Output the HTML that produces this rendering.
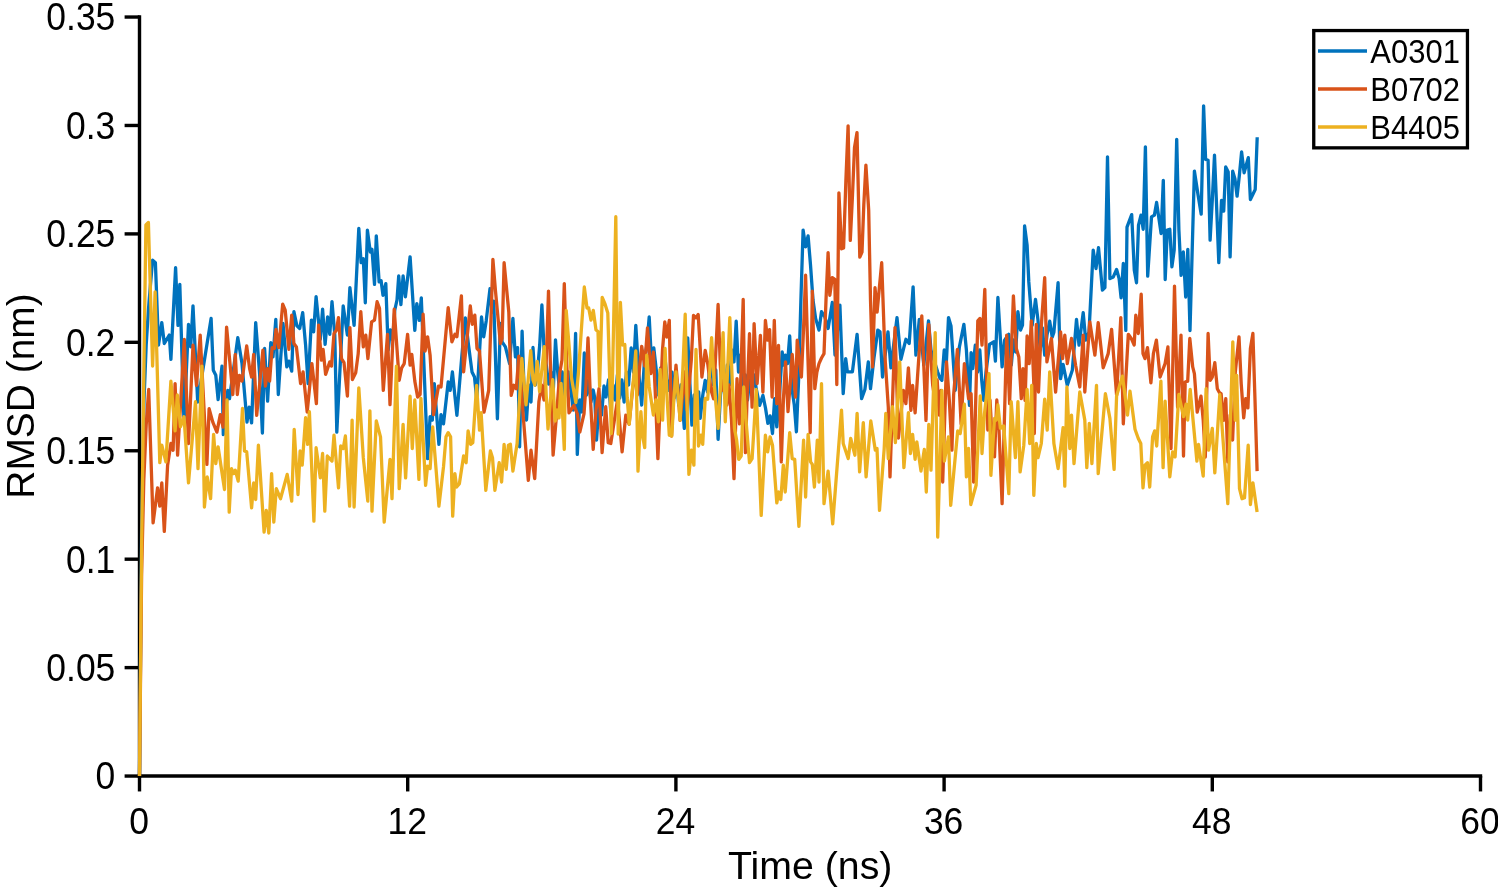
<!DOCTYPE html>
<html lang="en"><head><meta charset="utf-8"><title>RMSD</title>
<style>
html,body{margin:0;padding:0;background:#fff}
body{width:1498px;height:891px;overflow:hidden}
svg{display:block}
text{font-family:"Liberation Sans",Arial,Helvetica,sans-serif;fill:#000}
.tk{font-size:35px}
.lb{font-size:39.3px}
.lb2{font-size:38.9px}
.lg{font-size:31px}
</style></head><body>
<svg width="1498" height="891" viewBox="0 0 1498 891">
<rect width="1498" height="891" fill="#fff"/>
<g stroke="#000" stroke-width="3.4" fill="none" stroke-linecap="butt">
<path d="M139.5,15.3 V777.75"/>
<path d="M137.8,776.05 H1482.1999999999998"/>
<path d="M124.6,776.05 H139.5"/>
<path d="M124.6,667.62 H139.5"/>
<path d="M124.6,559.19 H139.5"/>
<path d="M124.6,450.76 H139.5"/>
<path d="M124.6,342.33 H139.5"/>
<path d="M124.6,233.90 H139.5"/>
<path d="M124.6,125.47 H139.5"/>
<path d="M124.6,17.04 H139.5"/>
<path d="M139.50,776.05 V791.4499999999999"/>
<path d="M407.70,776.05 V791.4499999999999"/>
<path d="M675.90,776.05 V791.4499999999999"/>
<path d="M944.10,776.05 V791.4499999999999"/>
<path d="M1212.30,776.05 V791.4499999999999"/>
<path d="M1480.50,776.05 V791.4499999999999"/>
</g>
<polyline fill="none" stroke="#0072BD" stroke-width="3.3" stroke-linejoin="round" stroke-linecap="butt" points="139.5,776.0 141.7,520.0 144.0,400.0 146.2,345.0 148.4,310.0 150.6,283.0 152.6,260.1 155.4,262.7 158.5,345.0 161.8,322.6 164.3,343.5 169.3,335.1 170.9,359.4 175.6,267.7 178.0,325.4 179.8,284.4 184.0,422.1 188.5,324.3 190.7,346.9 193.0,305.9 197.7,402.0 211.1,318.4 213.3,370.3 215.8,375.3 218.1,399.5 222.0,366.1 223.3,434.6 227.8,390.3 229.5,398.7 237.8,337.7 242.0,363.6 247.0,422.1 249.2,407.1 251.6,422.9 255.7,322.6 259.6,373.6 262.4,433.0 264.6,348.5 267.6,401.2 270.8,342.7 273.0,356.9 275.8,319.3 278.3,394.5 283.0,323.4 286.8,366.9 288.9,361.1 291.7,371.1 293.9,311.7 296.9,325.9 299.7,328.5 302.7,312.6 305.6,345.2 308.1,383.6 311.4,320.1 313.6,331.8 316.1,296.7 320.3,339.3 322.6,309.2 325.1,344.4 327.6,316.8 329.8,334.3 332.0,301.7 334.8,335.1 336.8,432.1 343.2,305.9 347.4,335.1 349.9,287.7 354.1,325.4 358.8,228.4 361.1,262.7 363.3,258.8 365.3,302.8 367.4,230.1 370.3,252.1 372.0,249.3 374.5,284.4 376.3,235.9 379.1,281.9 381.1,280.7 383.0,295.3 385.8,283.6 388.2,350.0 390.4,330.0 392.6,340.0 394.8,310.0 397.0,300.0 398.7,276.0 400.9,304.5 403.1,276.0 405.4,296.9 410.1,256.8 414.8,330.4 416.8,303.6 419.3,320.4 421.3,297.8 427.6,458.6 430.1,416.7 432.3,420.1 434.3,383.6 438.9,444.3 441.0,414.6 443.5,423.8 448.2,382.0 450.2,390.3 452.4,371.9 456.9,415.4 461.5,360.0 465.3,317.8 468.5,345.0 472.0,371.9 474.5,377.0 476.8,400.0 481.5,317.0 483.7,336.8 486.2,320.9 490.0,288.6 492.0,312.0 493.7,301.1 497.4,418.8 500.4,323.4 502.1,341.8 505.4,346.9 509.6,363.6 512.9,318.3 515.4,356.9 517.6,347.7 519.6,446.8 522.1,331.2 524.3,395.0 526.5,420.0 528.8,385.0 531.0,402.0 533.0,347.5 535.3,385.0 537.5,372.0 539.7,345.0 541.9,305.0 544.2,352.0 546.4,366.0 548.6,384.0 550.9,372.0 553.1,395.0 555.5,339.8 557.7,372.0 560.0,395.0 562.2,372.0 564.4,398.0 566.6,380.0 568.9,372.0 571.1,392.0 573.3,410.0 575.6,333.4 577.3,454.4 579.8,400.0 582.0,412.0 584.3,353.0 586.5,395.0 588.7,380.0 591.0,402.0 593.2,390.0 594.8,398.0 596.5,440.2 599.0,405.0 601.5,415.0 604.0,386.0 606.0,397.0 608.5,380.0 610.7,410.0 613.0,385.0 615.2,400.0 617.4,375.0 619.7,398.0 621.9,380.0 624.1,402.0 626.4,372.0 628.6,385.0 631.2,347.8 633.4,372.0 635.8,325.4 638.5,370.0 641.7,405.0 644.5,360.0 646.9,345.0 649.2,317.0 651.5,362.0 653.8,348.0 656.7,373.6 658.5,395.0 660.7,368.0 663.0,392.0 665.2,360.0 667.5,385.0 668.4,390.3 672.0,372.0 674.2,398.0 676.5,380.0 678.7,405.0 681.0,385.0 684.3,428.4 687.7,337.9 691.9,425.1 694.2,395.0 696.5,410.0 698.7,392.0 700.2,418.4 702.8,395.0 705.2,380.3 707.5,392.0 709.5,370.0 711.1,361.9 713.5,385.0 715.8,370.0 718.1,439.3 720.5,395.0 722.8,372.0 725.0,398.0 727.3,365.0 729.5,385.0 731.8,350.0 734.0,362.0 736.2,321.2 738.5,372.0 740.8,355.0 743.0,392.0 745.3,375.0 747.5,400.0 749.8,380.0 752.1,390.3 754.2,375.0 756.2,388.7 759.6,405.4 762.9,395.4 765.5,408.0 767.9,423.4 770.1,415.9 772.5,433.5 774.6,398.7 776.8,426.8 779.5,395.0 782.2,351.9 783.8,365.2 785.5,355.2 787.5,363.6 789.7,336.0 792.2,390.3 794.3,405.0 796.4,431.8 798.6,380.0 800.9,300.0 803.1,230.1 805.6,246.8 808.1,235.9 810.5,265.0 813.0,300.0 815.6,318.4 819.0,330.1 821.5,311.7 824.8,316.8 828.1,328.5 832.3,302.5 835.0,355.0 837.5,330.0 839.9,305.1 843.2,393.7 845.7,358.6 847.4,371.9 852.4,371.9 857.1,334.3 861.6,398.7 864.9,389.5 868.3,361.9 870.5,388.7 874.1,356.9 877.8,330.1 880.0,331.8 882.5,377.0 888.0,331.8 890.9,367.8 897.0,317.6 900.9,359.4 905.9,339.3 909.2,343.5 913.1,286.9 915.9,355.2 919.3,319.3 923.8,365.2 928.5,320.9 931.0,350.2 933.3,358.0 935.5,365.0 937.7,372.0 939.8,378.0 941.9,380.3 944.2,350.0 946.4,362.0 948.5,317.6 951.0,325.9 955.2,390.3 959.4,346.9 963.9,324.3 966.4,350.0 969.5,405.4 971.1,352.7 972.8,368.6 975.3,345.2 977.6,372.0 979.8,350.0 981.7,380.0 983.7,400.4 986.0,372.0 989.5,344.4 993.7,341.8 995.4,361.1 997.9,297.5 1002.1,366.9 1004.6,340.2 1008.8,334.3 1011.3,365.0 1013.5,340.0 1015.7,352.0 1017.9,311.7 1020.5,330.1 1022.5,325.1 1024.6,225.9 1027.1,245.1 1028.8,281.9 1032.2,325.4 1035.5,299.4 1038.0,320.4 1040.2,350.0 1042.4,328.0 1044.7,355.0 1047.0,335.0 1049.7,321.2 1052.2,337.1 1053.9,332.1 1058.1,282.7 1060.6,378.6 1063.1,364.4 1067.3,385.3 1072.3,370.3 1076.5,319.3 1079.0,345.2 1083.2,312.6 1085.7,340.2 1089.0,332.1 1093.2,250.1 1096.0,268.5 1098.5,247.6 1102.4,290.2 1104.9,287.7 1107.5,156.9 1109.9,278.6 1113.3,276.9 1116.6,269.4 1119.1,278.6 1121.1,297.8 1123.3,263.5 1125.8,330.4 1127.0,227.1 1131.7,214.6 1134.3,270.3 1136.5,282.8 1138.5,225.1 1141.0,215.1 1143.2,229.3 1145.4,146.8 1147.7,276.1 1151.5,216.8 1154.4,215.1 1156.6,202.5 1161.1,233.5 1163.3,180.3 1165.2,279.5 1167.3,230.1 1169.8,229.3 1171.9,266.9 1174.2,250.0 1176.7,139.3 1178.9,230.0 1181.1,275.3 1183.3,251.9 1185.7,297.0 1187.8,249.4 1190.0,330.5 1192.2,250.0 1194.4,171.1 1198.1,195.3 1201.2,214.2 1203.6,105.9 1205.6,159.4 1208.1,160.2 1210.1,240.2 1212.3,200.0 1214.5,155.2 1216.5,203.7 1218.8,262.7 1221.5,200.3 1223.7,211.2 1225.7,166.9 1228.2,171.9 1230.1,256.9 1232.7,171.1 1234.9,178.6 1237.1,196.2 1239.4,175.0 1241.6,151.9 1244.1,172.8 1248.3,157.7 1250.4,199.5 1255.2,189.5 1257.2,137.2"/>
<polyline fill="none" stroke="#D95319" stroke-width="3.3" stroke-linejoin="round" stroke-linecap="butt" points="139.5,776.0 141.6,575.0 143.8,480.0 146.2,425.0 148.7,389.5 153.1,522.9 157.6,487.8 159.8,506.2 161.8,482.8 164.3,531.3 167.6,465.2 170.9,443.5 173.1,450.2 175.1,383.6 177.6,455.2 184.3,339.3 188.5,443.5 193.0,345.2 196.5,385.3 200.2,335.1 206.9,464.4 209.1,408.7 212.8,422.1 216.9,432.1 220.3,414.6 223.1,427.1 226.6,327.1 230.0,363.6 232.8,394.5 235.3,354.4 237.3,394.5 239.5,375.3 242.0,381.1 246.7,346.0 249.6,368.6 251.6,377.0 253.7,354.4 256.7,415.4 262.9,350.2 265.4,386.1 267.6,368.6 269.6,381.1 272.1,347.7 274.3,348.5 276.0,329.3 278.8,347.7 282.7,304.2 285.2,310.1 288.9,349.4 291.7,315.1 293.9,343.5 296.4,346.9 300.6,383.6 303.1,371.9 307.2,412.1 311.9,363.6 316.4,403.7 318.6,325.1 321.4,360.2 323.1,349.4 325.6,374.4 329.8,361.9 331.5,366.1 334.0,333.5 336.5,330.1 338.5,317.6 341.5,358.6 344.0,362.7 347.4,396.2 349.9,327.6 352.4,379.5 355.7,372.8 358.2,353.6 360.8,311.7 363.3,346.9 365.8,335.1 367.9,358.6 371.6,321.8 374.5,320.1 377.1,301.7 379.5,308.4 383.3,390.3 387.5,334.3 390.0,404.6 394.2,309.2 399.2,380.3 401.7,367.8 404.2,363.6 407.6,334.3 410.1,365.2 411.8,354.4 414.8,381.1 417.6,397.0 420.1,394.5 423.1,314.2 425.1,351.0 427.6,336.8 430.1,355.2 433.5,414.6 438.5,386.1 441.0,387.0 448.2,307.6 451.9,341.8 454.9,334.3 456.9,336.8 461.4,295.9 463.6,371.9 470.3,305.9 472.3,324.3 474.8,315.1 477.0,348.5 479.5,351.0 484.0,412.1 488.7,390.3 492.9,259.3 495.4,290.2 500.4,343.5 502.1,338.5 504.1,262.7 508.8,312.0 511.2,395.4 513.8,385.3 516.3,388.7 518.8,356.1 523.8,423.4 528.3,480.3 531.0,450.2 534.7,478.6 538.9,401.7 541.5,385.0 544.0,400.0 546.3,360.0 548.5,291.1 550.8,380.0 553.1,455.2 556.4,416.7 559.8,372.8 562.0,360.0 564.3,283.6 566.6,360.0 569.0,412.9 574.0,405.4 577.3,413.8 579.8,432.1 584.0,413.8 586.0,385.0 588.0,338.0 590.5,400.0 593.2,449.4 596.0,410.0 599.0,388.7 602.1,452.7 605.7,406.7 608.2,442.7 610.8,443.5 614.9,416.7 617.5,400.0 619.8,425.0 622.1,451.9 625.8,415.1 629.1,424.3 632.5,390.3 635.0,370.0 637.3,395.0 639.5,368.0 641.7,346.3 644.7,366.0 647.5,327.9 650.9,373.6 653.4,352.1 655.6,400.0 657.9,458.6 660.3,400.0 662.5,350.0 664.8,322.0 666.8,337.1 669.3,320.4 671.5,436.0 673.8,395.0 676.0,365.2 678.2,392.0 680.1,420.4 682.5,395.0 684.7,372.0 687.0,410.0 689.2,385.0 691.3,360.0 693.5,315.3 696.0,317.8 698.2,314.5 701.9,377.0 705.2,350.4 707.7,363.6 711.1,390.3 713.6,398.7 715.9,350.0 718.1,304.5 720.3,365.0 722.0,390.3 724.5,375.0 726.8,405.0 729.0,385.0 731.5,420.0 734.0,478.6 737.0,378.6 739.5,423.8 741.3,360.0 743.2,299.4 745.4,452.7 747.5,385.0 749.5,333.7 752.1,407.1 754.1,323.7 757.1,383.6 760.4,335.4 762.9,392.0 765.4,320.4 767.6,340.2 769.6,329.6 772.1,397.0 774.3,320.4 776.8,403.7 778.5,345.4 781.3,461.9 783.4,400.0 785.5,361.9 788.0,411.7 790.1,385.0 792.2,354.4 795.5,397.0 797.2,340.2 799.3,360.0 801.4,377.0 803.5,330.0 805.6,275.2 808.0,360.0 810.2,432.6 812.3,291.1 814.8,388.7 816.9,372.0 819.0,363.6 821.5,358.0 824.0,353.6 826.0,300.0 828.1,252.6 829.8,295.3 832.3,277.7 834.8,279.4 836.8,384.5 838.9,192.8 841.6,248.8 843.6,248.0 845.9,180.0 848.1,125.9 850.3,240.4 852.5,195.0 854.5,147.6 857.0,132.6 859.8,257.2 862.0,252.1 863.8,205.0 865.9,165.2 868.7,210.3 870.5,300.0 872.5,366.9 875.0,287.7 877.1,312.0 881.7,262.7 885.0,356.9 888.3,407.1 890.0,476.9 895.0,327.6 898.4,438.0 903.4,390.3 905.9,403.7 908.4,367.8 910.9,410.4 912.6,385.3 915.1,412.9 918.4,363.6 921.8,315.9 926.0,420.4 928.8,324.3 932.7,385.3 935.0,400.0 937.2,380.0 939.2,415.0 941.0,390.3 942.7,482.0 946.5,361.9 949.3,400.0 951.9,450.2 953.6,395.4 957.4,349.4 961.1,423.8 964.4,363.6 968.6,398.7 971.1,393.7 973.6,482.0 977.8,320.9 980.0,318.4 982.0,345.2 984.8,289.4 987.8,430.0 990.0,400.0 992.3,440.0 994.5,456.9 996.8,400.0 999.0,430.0 1002.1,503.7 1006.7,335.1 1009.6,403.7 1013.4,295.9 1016.3,348.5 1018.8,356.9 1021.3,398.7 1023.0,368.6 1025.1,400.4 1027.1,336.0 1029.2,363.6 1031.3,320.9 1033.8,383.6 1034.3,433.5 1036.3,324.3 1038.5,392.0 1041.3,325.9 1044.7,277.7 1046.9,361.9 1051.4,338.5 1055.6,392.0 1060.6,331.8 1062.6,358.6 1064.8,335.1 1067.3,363.6 1071.5,338.5 1075.6,365.2 1079.8,387.0 1083.2,335.1 1084.8,392.0 1089.8,321.8 1094.9,355.2 1098.2,322.6 1103.2,367.8 1108.2,353.6 1111.6,329.3 1116.6,395.4 1120.8,317.6 1123.3,423.8 1128.3,334.3 1131.7,339.3 1134.2,345.0 1135.8,315.1 1138.3,333.5 1141.2,294.2 1143.0,353.6 1145.0,358.6 1147.5,347.7 1150.9,382.8 1153.4,353.6 1156.4,340.2 1160.1,377.0 1165.1,363.6 1167.9,346.9 1171.0,448.5 1174.5,286.1 1177.6,407.1 1181.0,335.1 1183.5,456.0 1185.2,382.0 1187.7,381.1 1189.8,338.5 1192.7,366.9 1194.4,373.6 1197.2,412.1 1201.0,396.2 1203.2,420.0 1205.3,457.0 1208.1,333.5 1210.2,380.3 1212.3,377.0 1214.8,362.7 1217.3,388.7 1219.5,392.8 1221.1,393.7 1223.6,420.4 1225.8,398.7 1227.8,461.9 1230.2,415.0 1232.6,440.0 1235.3,371.9 1239.0,336.8 1241.2,383.6 1243.7,417.9 1245.7,398.7 1247.9,407.9 1250.4,348.5 1252.9,333.5 1255.0,400.0 1257.1,471.1"/>
<polyline fill="none" stroke="#EDB120" stroke-width="3.3" stroke-linejoin="round" stroke-linecap="butt" points="139.5,776.0 141.7,540.0 144.0,360.0 145.9,225.0 148.4,222.5 152.6,366.0 155.1,291.9 159.8,462.7 161.8,445.2 165.9,461.9 170.9,381.1 175.1,430.9 177.3,395.0 180.5,426.8 184.0,416.7 188.5,482.8 195.5,401.7 198.0,468.6 201.9,366.1 204.4,507.0 207.2,476.9 210.6,498.7 213.6,434.3 215.8,463.6 218.1,446.8 224.5,489.5 227.0,400.0 229.2,512.1 231.5,468.6 233.7,473.6 235.3,470.2 238.2,481.1 242.5,408.4 244.5,451.0 246.7,451.9 251.6,507.9 253.7,482.8 255.7,499.5 258.4,445.2 264.1,532.1 266.3,510.4 268.8,533.0 271.6,473.6 273.8,522.1 276.3,488.6 280.5,498.7 287.2,474.4 291.7,501.2 294.2,429.3 298.0,494.5 300.1,451.0 302.2,465.2 305.6,417.6 307.6,444.3 309.4,411.7 313.9,521.2 316.1,447.7 320.3,477.8 322.6,453.5 324.8,511.2 327.3,456.0 332.0,461.1 334.0,435.1 338.5,487.8 340.7,446.0 343.2,448.5 345.4,436.0 349.6,506.2 352.1,420.1 354.1,507.0 358.8,387.8 363.3,457.7 367.8,501.2 369.9,410.9 372.0,511.2 376.3,420.9 380.5,436.8 384.2,522.1 390.0,459.4 392.0,498.7 396.4,366.1 399.2,488.6 403.1,424.3 405.6,477.8 410.1,396.2 412.3,448.5 414.8,400.0 418.9,479.4 420.9,398.3 425.6,485.3 427.6,466.1 430.1,468.6 432.7,426.8 436.8,478.6 438.9,506.2 443.5,466.9 446.0,436.8 448.2,432.6 450.6,436.8 452.7,516.2 454.9,473.6 456.6,487.0 459.4,483.6 463.6,456.0 466.1,462.7 468.1,430.9 470.6,444.3 472.8,442.7 476.6,385.3 479.5,430.1 481.1,412.6 485.8,490.3 490.4,451.0 492.5,457.7 494.9,490.3 499.2,462.7 501.6,482.0 504.1,444.3 506.2,469.4 508.4,445.2 510.4,444.3 512.9,471.1 517.1,443.5 519.5,400.0 521.8,358.5 526.0,404.8 530.7,350.6 533.0,380.0 534.9,385.2 537.2,361.5 539.6,391.7 544.3,346.6 546.2,395.0 548.0,429.0 550.4,400.0 552.7,379.6 555.2,421.0 557.3,410.0 559.0,418.0 561.1,383.3 564.3,449.3 566.2,310.4 569.0,345.0 571.5,378.0 575.8,402.5 578.5,372.0 581.0,335.0 584.3,287.0 587.0,308.0 588.7,308.0 591.0,320.2 593.3,310.4 596.0,330.0 598.0,331.5 599.6,386.1 602.2,297.3 605.0,304.0 607.8,313.0 611.3,433.5 613.5,330.0 615.8,216.7 618.2,434.0 620.4,302.4 622.6,345.0 624.8,344.5 627.2,398.0 629.2,424.0 631.4,400.0 633.6,378.0 635.8,351.0 638.0,471.1 640.9,411.7 642.5,435.1 644.7,447.7 646.7,355.2 649.2,387.0 653.4,415.1 655.9,400.0 658.4,421.8 660.1,369.4 662.6,420.1 665.1,348.5 667.2,400.0 669.3,435.1 671.8,436.0 673.8,400.0 676.0,371.9 678.0,395.0 680.1,420.1 682.8,370.0 685.2,314.2 687.0,400.0 688.9,474.4 691.5,450.2 693.9,465.2 696.0,349.4 698.5,446.0 701.0,435.1 702.7,444.3 705.2,398.3 707.7,399.2 709.8,370.0 711.6,337.7 714.0,380.0 716.0,405.0 718.1,428.4 720.6,385.0 723.1,332.6 725.3,421.8 727.6,370.0 729.8,317.6 732.2,380.0 734.5,428.4 736.6,440.0 738.7,459.4 741.2,456.0 743.7,387.0 746.0,420.0 749.5,462.7 752.1,458.6 754.2,425.0 756.2,389.5 758.6,450.0 761.2,515.4 765.4,435.1 767.6,451.9 770.1,436.8 772.5,445.2 776.8,502.9 778.8,492.0 780.8,499.5 783.3,465.2 785.2,492.0 789.7,432.6 792.2,458.6 794.7,459.4 798.9,526.3 803.6,440.1 805.6,497.0 808.1,434.3 810.6,461.9 812.3,464.4 814.4,487.0 817.3,440.1 819.0,482.0 821.5,383.6 824.0,503.7 828.1,471.1 832.7,523.8 841.5,410.1 843.2,443.5 848.2,458.6 850.7,438.5 854.9,455.2 857.1,413.4 859.6,471.9 863.3,422.6 866.1,476.9 870.8,420.9 875.3,450.2 877.0,448.5 879.5,510.4 884.2,448.5 885.8,413.4 888.3,458.6 892.5,406.7 895.4,442.7 899.7,361.9 903.9,467.7 908.4,412.6 910.4,453.5 912.6,434.3 915.1,459.4 916.8,441.8 921.0,471.1 924.3,449.4 926.3,492.0 928.8,424.3 931.0,470.2 935.2,332.6 937.7,537.1 941.9,390.3 944.4,461.1 948.5,436.8 950.7,505.4 957.7,430.9 960.2,433.5 964.4,404.2 966.4,476.9 968.6,448.5 970.8,504.5 976.1,485.3 980.3,395.8 982.0,453.5 984.5,413.4 989.0,373.6 990.9,475.3 994.5,418.4 996.2,420.1 997.9,405.0 1000.4,428.4 1003.7,425.9 1008.8,493.7 1011.2,401.7 1015.4,457.7 1017.9,401.7 1020.1,471.9 1023.8,445.2 1027.1,389.5 1029.7,443.5 1031.7,385.3 1033.8,495.3 1036.3,443.5 1038.0,457.7 1041.3,443.5 1044.7,399.2 1047.2,430.1 1049.7,371.9 1053.9,443.5 1058.1,468.6 1063.1,427.6 1064.8,486.1 1066.9,387.0 1069.8,448.5 1071.5,415.1 1074.0,463.6 1079.8,392.0 1084.8,420.1 1086.8,467.7 1089.3,423.4 1091.9,463.6 1096.5,385.3 1098.2,473.6 1105.4,393.7 1109.9,418.4 1114.1,469.4 1116.6,395.8 1122.5,376.1 1127.5,415.1 1130.0,391.2 1135.0,429.3 1138.3,438.5 1140.8,443.5 1143.0,487.8 1145.0,465.2 1147.5,462.7 1149.7,487.0 1152.6,436.8 1154.7,430.9 1156.7,446.0 1160.9,381.1 1163.1,467.7 1165.1,401.2 1169.8,476.9 1172.6,451.9 1175.1,456.9 1178.8,394.5 1183.5,416.7 1186.0,404.2 1187.7,420.1 1190.2,389.5 1196.9,461.1 1198.5,444.3 1203.2,476.1 1206.1,388.7 1208.6,450.2 1212.3,428.4 1214.8,472.8 1219.8,394.5 1222.8,436.8 1227.8,503.7 1232.8,341.8 1235.3,420.1 1236.7,375.3 1239.5,488.6 1242.0,498.7 1244.5,497.8 1248.2,445.2 1250.4,504.5 1252.9,482.8 1257.1,512.1"/>
<g class="tk" text-anchor="end">
<text transform="translate(115.3,789.45) scale(1.013,1.085)">0</text>
<text transform="translate(115.3,681.02) scale(1.013,1.085)">0.05</text>
<text transform="translate(115.3,572.59) scale(1.013,1.085)">0.1</text>
<text transform="translate(115.3,464.16) scale(1.013,1.085)">0.15</text>
<text transform="translate(115.3,355.73) scale(1.013,1.085)">0.2</text>
<text transform="translate(115.3,247.30) scale(1.013,1.085)">0.25</text>
<text transform="translate(115.3,138.87) scale(1.013,1.085)">0.3</text>
<text transform="translate(115.3,30.44) scale(1.013,1.085)">0.35</text>
</g>
<g class="tk" text-anchor="middle">
<text transform="translate(139.00,834.1) scale(1.013,1.06)">0</text>
<text transform="translate(407.20,834.1) scale(1.013,1.06)">12</text>
<text transform="translate(675.40,834.1) scale(1.013,1.06)">24</text>
<text transform="translate(943.60,834.1) scale(1.013,1.06)">36</text>
<text transform="translate(1211.80,834.1) scale(1.013,1.06)">48</text>
<text transform="translate(1480.00,834.1) scale(1.013,1.06)">60</text>
</g>
<text class="lb" text-anchor="middle" x="810.2" y="878.7">Time (ns)</text>
<text class="lb2" text-anchor="middle" transform="translate(34.2,396) rotate(-90)">RMSD (nm)</text>
<rect x="1313.75" y="30.55" width="153.7" height="117.3" fill="#fff" stroke="#000" stroke-width="3.3"/>
<path d="M1318,51 H1367" stroke="#0072BD" stroke-width="3.4" fill="none"/>
<text class="lg" transform="translate(1370.3,62.8) scale(1,1.05)">A0301</text>
<path d="M1318,89 H1367" stroke="#D95319" stroke-width="3.4" fill="none"/>
<text class="lg" transform="translate(1370.3,100.8) scale(1,1.05)">B0702</text>
<path d="M1318,127 H1367" stroke="#EDB120" stroke-width="3.4" fill="none"/>
<text class="lg" transform="translate(1370.3,138.8) scale(1,1.05)">B4405</text>
</svg>
</body></html>
